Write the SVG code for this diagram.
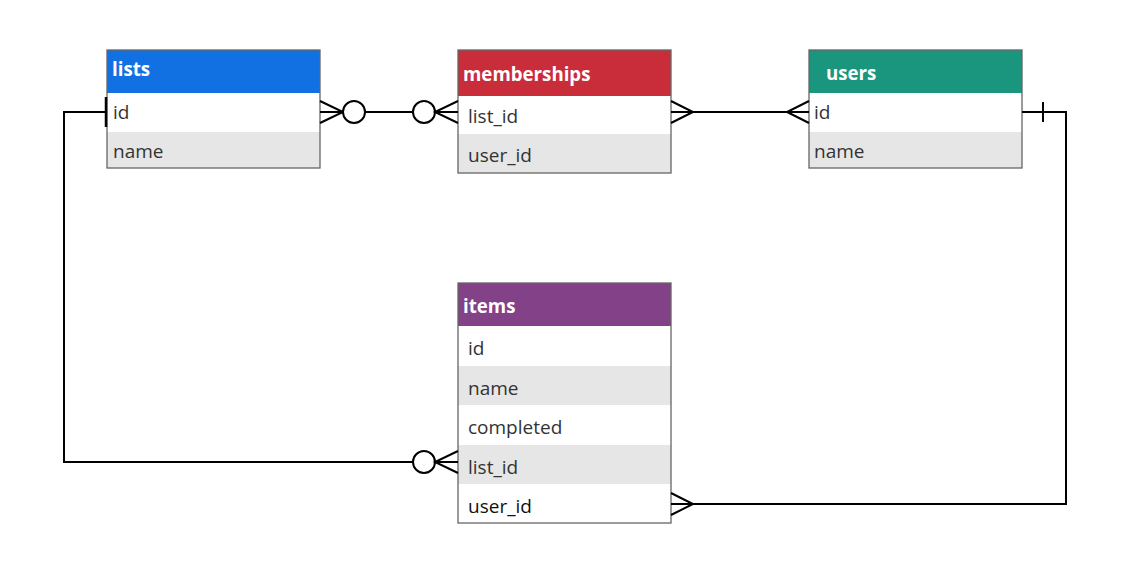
<svg xmlns="http://www.w3.org/2000/svg" width="1136" height="574" viewBox="0 0 1136 574">
<style>
.hdr{font-family:"Open Sans","Liberation Sans",sans-serif;font-weight:bold;font-size:18.7px;fill:#ffffff}
.fld{font-family:"Open Sans","Liberation Sans",sans-serif;font-size:19px;fill:#333333}
.alt{fill:#e6e6e6}
.wht{fill:#ffffff}
.frame{fill:none;stroke:#666666;stroke-width:1.3}
.con{fill:none;stroke:#000000;stroke-width:2}
.circ{fill:#ffffff;stroke:#000000;stroke-width:2}
</style>
<rect width="1136" height="574" fill="#ffffff"/>
<g id="lists">
<rect x="107" y="50" width="213" height="43" fill="#1271e2"/>
<rect x="107" y="93" width="213" height="39" class="wht"/>
<rect x="107" y="132" width="213" height="36" class="alt"/>
<rect x="107" y="50" width="213" height="118" class="frame"/>
<text x="112" y="76" class="hdr">lists</text>
<text x="113" y="119" class="fld">id</text>
<text x="113" y="158" class="fld">name</text>
</g>
<g id="memberships">
<rect x="458" y="50" width="213" height="46" fill="#c92d39"/>
<rect x="458" y="96" width="213" height="38" class="wht"/>
<rect x="458" y="134" width="213" height="39" class="alt"/>
<rect x="458" y="50" width="213" height="123" class="frame"/>
<text x="463" y="81" class="hdr">memberships</text>
<text x="468" y="123" class="fld">list_id</text>
<text x="468" y="162" class="fld">user_id</text>
</g>
<g id="users">
<rect x="809" y="50" width="213" height="43" fill="#19967d"/>
<rect x="809" y="93" width="213" height="39" class="wht"/>
<rect x="809" y="132" width="213" height="36" class="alt"/>
<rect x="809" y="50" width="213" height="118" class="frame"/>
<text x="826" y="80" class="hdr">users</text>
<text x="814" y="119" class="fld">id</text>
<text x="814" y="158" class="fld">name</text>
</g>
<g id="items">
<rect x="458" y="283" width="213" height="43" fill="#834187"/>
<rect x="458" y="326" width="213" height="40" class="wht"/>
<rect x="458" y="366" width="213" height="39" class="alt"/>
<rect x="458" y="405" width="213" height="40" class="wht"/>
<rect x="458" y="445" width="213" height="39" class="alt"/>
<rect x="458" y="484" width="213" height="39" class="wht"/>
<rect x="458" y="283" width="213" height="240" class="frame"/>
<text x="463" y="313" class="hdr">items</text>
<text x="468" y="355" class="fld">id</text>
<text x="468" y="395" class="fld">name</text>
<text x="468" y="434" class="fld">completed</text>
<text x="468" y="474" class="fld">list_id</text>
<text x="468" y="513" class="fld" style="fill:#111111">user_id</text>
</g>
<g id="connectors">
<path class="con" d="M320 112 H458"/>
<path class="con" d="M320 101 L343 112 L320 123"/>
<circle class="circ" cx="354" cy="112" r="11"/>
<circle class="circ" cx="424" cy="112" r="11"/>
<path class="con" d="M458 101 L435 112 L458 123"/>
<path class="con" d="M671 112 H809"/>
<path class="con" d="M671 101 L693 112 L671 123"/>
<path class="con" d="M809 101 L787 112 L809 123"/>
<path class="con" d="M1022 112 H1066 V504 H671"/>
<path class="con" d="M1043 102 V122"/>
<path class="con" d="M671 493 L693 504 L671 515"/>
<path class="con" d="M107 112 H64 V462 H458"/>
<path class="con" d="M106 97 V127" style="stroke-width:2.5"/>
<circle class="circ" cx="424" cy="462" r="11"/>
<path class="con" d="M458 451 L435 462 L458 473"/>
</g>
</svg>
